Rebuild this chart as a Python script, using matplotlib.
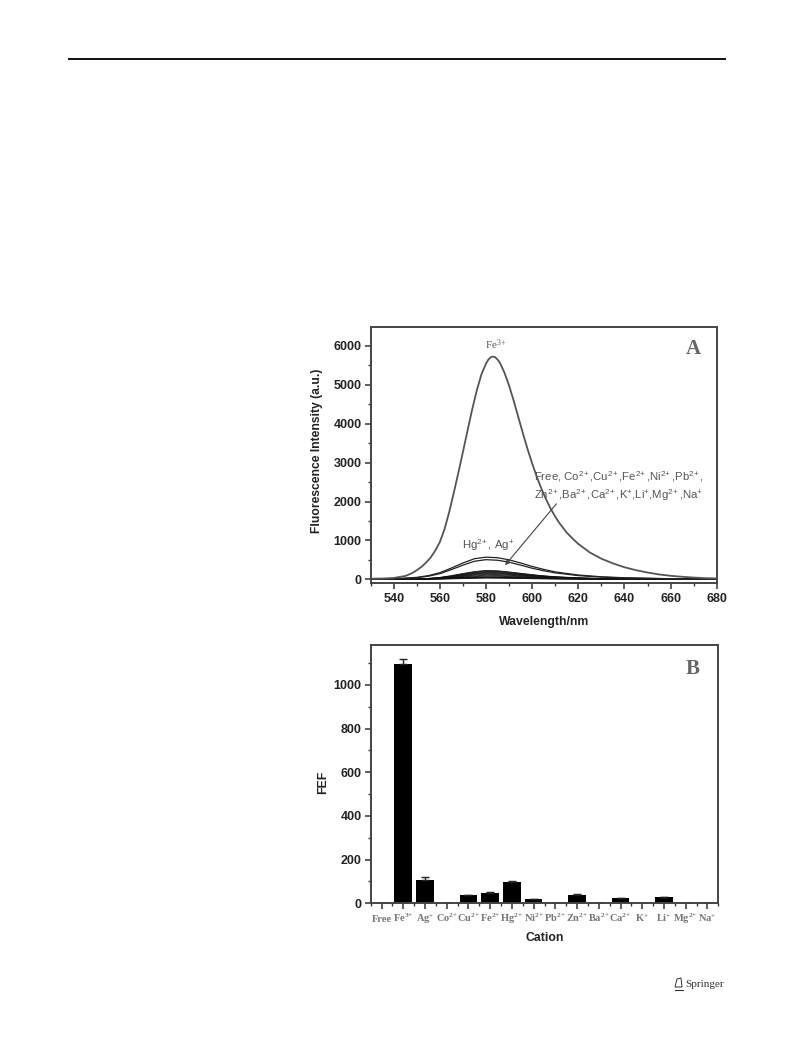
import matplotlib
matplotlib.use('Agg')
import matplotlib.pyplot as plt
from matplotlib.patches import Polygon

plt.rcParams['font.family'] = ['Liberation Sans', 'DejaVu Sans']
plt.rcParams['mathtext.default'] = 'regular'

# Fe3+ curve
wl_fe3 = [530, 535, 540, 545, 548, 550, 552, 554, 556, 558, 560, 562, 564, 566, 568, 570, 572, 574, 576, 578,
          580, 581, 582, 583, 584, 585, 586, 588, 590, 592, 594, 596, 598, 600, 602, 604, 606, 608, 610, 612,
          615, 618, 620, 625, 630, 635, 640, 645, 650, 655, 660, 665, 670, 675, 680]
fe3 = [15, 20, 35, 85, 160, 235, 320, 430, 560, 740, 960, 1290, 1720, 2220, 2740, 3280, 3830, 4370, 4860, 5270,
       5550, 5650, 5710, 5730, 5710, 5650, 5570, 5310, 4980, 4590, 4170, 3750, 3350, 2980, 2640, 2330, 2060, 1820, 1610, 1430,
       1200, 1020, 910, 690, 530, 410, 310, 235, 175, 125, 90, 65, 45, 30, 22]

# the weak curves share one wavelength list
wl = [530, 540, 550, 555, 560, 565, 570, 575, 580, 585, 590, 595, 600, 605, 610, 620, 630, 640, 660, 680]
hg = [5, 12, 50, 95, 170, 290, 420, 530, 570, 555, 500, 420, 330, 255, 190, 110, 65, 40, 15, 8]
ag = [5, 10, 40, 80, 145, 250, 365, 465, 505, 490, 440, 365, 285, 220, 165, 95, 55, 35, 12, 6]
free = [2, 3, 8, 12, 20, 30, 40, 48, 52, 50, 45, 38, 30, 24, 18, 10, 6, 4, 2, 1]
co = [3, 5, 12, 25, 50, 95, 150, 200, 228, 220, 190, 155, 120, 90, 68, 38, 22, 12, 5, 2]
cu = [3, 5, 12, 22, 45, 85, 135, 185, 212, 205, 178, 145, 112, 85, 62, 35, 20, 11, 4, 2]
fe2 = [3, 4, 10, 20, 40, 75, 125, 170, 198, 192, 165, 135, 105, 78, 58, 32, 18, 10, 4, 2]
ni = [2, 4, 9, 18, 35, 68, 112, 155, 182, 175, 150, 122, 95, 72, 52, 29, 16, 9, 3, 2]
pb = [2, 3, 8, 15, 30, 60, 100, 140, 165, 158, 136, 110, 85, 64, 46, 26, 14, 8, 3, 1]
zn = [2, 3, 7, 13, 27, 52, 88, 125, 148, 142, 122, 98, 76, 57, 41, 23, 13, 7, 3, 1]
ba = [2, 3, 6, 11, 23, 45, 76, 108, 128, 122, 105, 85, 66, 49, 36, 20, 11, 6, 2, 1]
ca = [2, 3, 5, 9, 19, 37, 62, 88, 105, 100, 86, 70, 54, 40, 29, 16, 9, 5, 2, 1]
k = [1, 2, 4, 8, 15, 30, 50, 70, 84, 80, 69, 56, 43, 32, 23, 13, 7, 4, 2, 1]
li = [1, 2, 4, 6, 12, 23, 38, 53, 64, 61, 53, 43, 33, 25, 18, 10, 5, 3, 1, 1]
mg = [1, 1, 3, 5, 9, 17, 27, 38, 45, 43, 37, 30, 23, 17, 12, 7, 4, 2, 1, 1]
na = [1, 1, 2, 3, 6, 11, 18, 25, 30, 28, 24, 20, 15, 11, 8, 5, 3, 2, 1, 1]
weak = [free, co, cu, fe2, ni, pb, zn, ba, ca, k, li, mg, na]

# panel B
P2 = r'$^{2\!+}$'
P3 = r'$^{3\!+}$'
P1 = r'$^{+}$'
cations = ['Free', 'Fe' + P3, 'Ag' + P1, 'Co' + P2, 'Cu' + P2, 'Fe' + P2, 'Hg' + P2, 'Ni' + P2,
           'Pb' + P2, 'Zn' + P2, 'Ba' + P2, 'Ca' + P2, 'K' + P1, 'Li' + P1, 'Mg' + P2, 'Na' + P1]
fef = [0, 1096, 107, 1, 38, 46, 96, 18, 1, 40, 3, 24, 1, 27, 1, 1]
fef_err = [0, 21, 12, 0, 2, 8, 7, 2, 0, 2, 0, 1, 0, 2, 0, 0]

W, H = 793, 1053
GREY = '#555555'
DARK = '#222222'
SERIF = ['Liberation Serif', 'DejaVu Serif']


def make_axes(fig, left, top, right, bottom):
    ax = fig.add_axes([left / W, 1 - bottom / H, (right - left) / W, (bottom - top) / H])
    for s in ax.spines.values():
        s.set_color('#444444')
        s.set_linewidth(1.4)
    ax.tick_params(which='major', length=4, width=1.1, color='#333333', labelsize=9, labelcolor=DARK)
    ax.tick_params(which='minor', length=2.5, width=1, color='#333333')
    ax.tick_params(axis='y', which='major', pad=2.5)
    return ax


fig = plt.figure(figsize=(W / 100, H / 100), dpi=100)

# page furniture
fig.add_artist(plt.Line2D([69 / W, 725 / W], [1 - 58.5 / H, 1 - 58.5 / H], color='#111111', lw=1.4))
fig.text(724 / W, 1 - 984.5 / H, 'Springer', family=SERIF, fontsize=8, color='#333333', ha='right', va='center')
fig.add_artist(Polygon([[675 / W, 1 - 987 / H], [677 / W, 1 - 979 / H], [681 / W, 1 - 978 / H], [682 / W, 1 - 987 / H]],
                       closed=True, fill=False, ec='#333333', lw=0.7, transform=fig.transFigure))
fig.add_artist(plt.Line2D([675 / W, 683 / W], [1 - 989.5 / H, 1 - 989.5 / H], color='#333333', lw=0.8))

# panel A
ax = make_axes(fig, 370.7, 326.7, 716.7, 583)
for y in weak:
    ax.plot(wl, y, color='#111111', lw=0.6)
ax.plot(wl, hg, color='#222222', lw=0.9)
ax.plot(wl, ag, color='#222222', lw=0.9)
ax.plot(wl_fe3, fe3, color=GREY, lw=1.3)
ax.set_xlim(530, 680)
ax.set_ylim(-95, 6496)
ax.set_xticks(range(540, 681, 20))
ax.set_xticks(range(530, 681, 10), minor=True)
ax.set_yticks(range(0, 6001, 1000))
ax.set_yticks(range(0, 6001, 500), minor=True)
for lab in ax.get_xticklabels() + ax.get_yticklabels():
    lab.set_fontweight('bold')
ax.set_xlabel('Wavelength/nm', fontsize=8.8, fontweight='bold', color=DARK, labelpad=7.5)
ax.set_ylabel('Fluorescence Intensity (a.u.)', fontsize=8.7, fontweight='bold', color=DARK)
ax.yaxis.set_label_coords(-0.138, 0.515)
ax.text(584, 6040, 'Fe' + P3, family=SERIF, fontsize=8, color=GREY, ha='center', va='center')
ax.text(669.7, 5930, 'A', family=SERIF, fontsize=15, fontweight='bold', color='#666666', ha='center', va='center')
ax.text(580.8, 870, 'Hg' + P2 + ', Ag' + P1, fontsize=8.2, color=GREY, ha='center', va='center')
ax.text(637.6, 2630, 'Free, Co' + P2 + ',Cu' + P2 + ',Fe' + P2 + ',Ni' + P2 + ',Pb' + P2 + ',',
        fontsize=8.2, color=GREY, ha='center', va='center')
ax.text(637.6, 2170, 'Zn' + P2 + ',Ba' + P2 + ',Ca' + P2 + ',K' + P1 + ',Li' + P1 + ',Mg' + P2 + ',Na' + P1,
        fontsize=8.2, color=GREY, ha='center', va='center')
ax.annotate('', xy=(587.5, 308), xytext=(611.3, 1997),
            arrowprops=dict(arrowstyle='-|>', color='#444444', lw=0.8, mutation_scale=7))

# panel B
bx = make_axes(fig, 370.7, 645, 718.3, 903.3)
xs = list(range(len(cations)))
bx.bar(xs, fef, width=0.81, color='black', yerr=[[0] * len(fef_err), fef_err],
       error_kw=dict(ecolor='#222222', elinewidth=1, capsize=3, capthick=1))
bx.set_xlim(-0.5, 15.5)
bx.set_ylim(0, 1183)
bx.set_xticks(xs)
bx.set_xticks([i - 0.5 for i in range(len(cations) + 1)], minor=True)
bx.set_xticklabels(cations, family=SERIF, fontsize=7.5, fontweight='bold', color='#777777', va='baseline')
bx.tick_params(axis='x', which='major', pad=9.5)
bx.set_yticks(range(0, 1001, 200))
bx.set_yticks(range(0, 1101, 100), minor=True)
for lab in bx.get_yticklabels():
    lab.set_fontweight('bold')
bx.set_xlabel('Cation', fontsize=8.8, fontweight='bold', color=DARK, labelpad=4.5)
bx.set_ylabel('FEF', fontsize=8.8, fontweight='bold', color=DARK)
bx.yaxis.set_label_coords(-0.120, 0.467)
bx.text(14.33, 1075, 'B', family=SERIF, fontsize=15, fontweight='bold', color='#666666', ha='center', va='center')

fig.savefig('out.png', dpi=100)
